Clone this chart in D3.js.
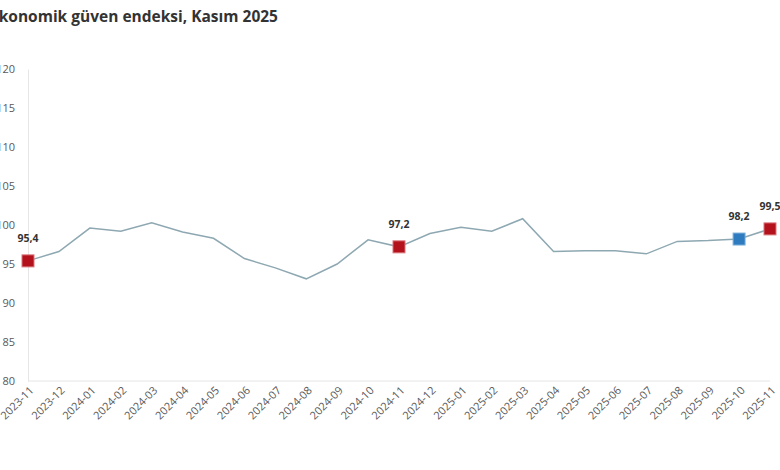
<!DOCTYPE html>
<html>
<head>
<meta charset="utf-8">
<script src="https://cdn.jsdelivr.net/npm/d3@7"></script>
<style>
  body { margin: 0; background: #fff; }
  svg { display: block; font-family: "Open Sans", "Noto Sans", sans-serif; }
</style>
</head>
<body>
<div class="Graph"></div>
<script>
// aylar ve endeks değerleri
var months = ["2023-11", "2023-12", "2024-01", "2024-02", "2024-03", "2024-04", "2024-05",
    "2024-06", "2024-07", "2024-08", "2024-09", "2024-10", "2024-11", "2024-12",
    "2025-01", "2025-02", "2025-03", "2025-04", "2025-05", "2025-06", "2025-07",
    "2025-08", "2025-09", "2025-10", "2025-11"];
var values = [95.4, 96.6, 99.6, 99.2, 100.3, 99.1, 98.3, 95.7, 94.5, 93.1, 95.0, 98.1,
    97.2, 98.9, 99.7, 99.2, 100.8, 96.6, 96.7, 96.7, 96.3, 97.9, 98.0, 98.2, 99.5];
var yTicks = [80, 85, 90, 95, 100, 105, 110, 115, 120];
// işaretli noktalar
var marked = ["2023-11", "2024-11", "2025-10", "2025-11"];
var markColor = { "2025-10": "#2e7bbf" };
var title = "Ekonomik güven endeksi, Kasım 2025";

var W = 780, H = 470;
var margin = { top: 69, right: 10, bottom: 89, left: 28 };

var svg = d3.select(".Graph")
    .append("svg")
    .attr("width", W)
    .attr("height", H);

svg.append("text")
    .attr("x", -10)
    .attr("y", 22)
    .attr("font-size", 15.5)
    .attr("font-weight", "bold")
    .attr("fill", "#333")
    .text(title);

var x = d3.scalePoint()
    .domain(months)
    .range([margin.left, W - margin.right]);

var y = d3.scaleLinear()
    .domain([80, 120])
    .range([H - margin.bottom, margin.top]);

// y ekseni
var yAxis = svg.append("g")
    .attr("transform", "translate(" + margin.left + ",0)")
    .call(d3.axisLeft(y).tickValues(yTicks).tickSize(0).tickPadding(13));
yAxis.select(".domain").attr("stroke", "#e6e6e6");
yAxis.selectAll("text").attr("font-size", 11).attr("fill", "#595959")
    .attr("font-family", "Open Sans, sans-serif");

// x ekseni
var xAxis = svg.append("g")
    .attr("transform", "translate(0," + y(80) + ")")
    .call(d3.axisBottom(x).tickSize(0).tickPadding(0));
xAxis.select(".domain").attr("stroke", "#e6e6e6").attr("d", "M" + margin.left + ",0H" + (W - margin.right));
xAxis.selectAll("text")
    .attr("font-size", 11)
    .attr("fill", "#595959")
    .attr("font-family", "Open Sans, sans-serif")
    .attr("text-anchor", "end")
    .attr("dy", 0)
    .attr("transform", "translate(6,10) rotate(-45)");

var line = d3.line()
    .x((d, i) => x(months[i]))
    .y(d => y(d));

svg.append("path")
    .datum(values)
    .attr("fill", "none")
    .attr("stroke", "#8ea8b2")
    .attr("stroke-width", 1.5)
    .attr("d", line);

var pts = months.map((m, i) => ({ m: m, v: values[i] })).filter(d => marked.indexOf(d.m) >= 0);
var s = 12;

svg.selectAll(".mark")
    .data(pts)
    .enter()
    .append("rect")
    .attr("class", "mark")
    .attr("x", d => x(d.m) - s / 2)
    .attr("y", d => y(d.v) - s / 2)
    .attr("width", s)
    .attr("height", s)
    .attr("fill", d => markColor[d.m] || "#b3111c")
    .attr("stroke", d => markColor[d.m] ? "#7fb0dc" : "#d9757b")
    .attr("stroke-width", 1);

svg.selectAll(".lbl")
    .data(pts)
    .enter()
    .append("text")
    .attr("class", "lbl")
    .attr("x", d => x(d.m))
    .attr("y", d => y(d.v) - 19)
    .attr("text-anchor", "middle")
    .attr("font-size", 10.5)
    .attr("font-weight", "bold")
    .attr("fill", "#333")
    .text(d => d3.format(".1f")(d.v).replace(".", ","));
</script>
</body>
</html>
